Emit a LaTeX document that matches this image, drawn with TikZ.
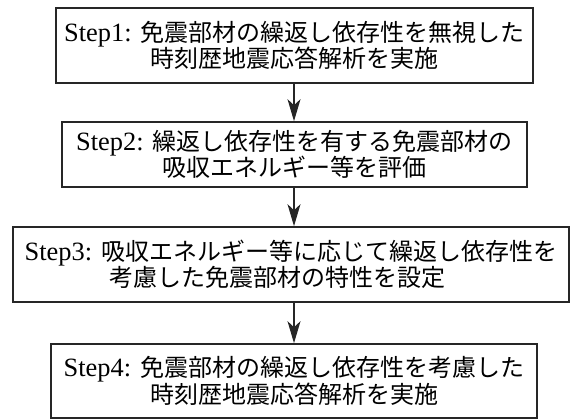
\documentclass[tikz,border=0pt]{standalone}
\usepackage{fontspec}
\setmainfont{Liberation Serif}[Scale=1.1]
\newfontfamily\jp{Noto Sans CJK JP}
\usetikzlibrary{arrows.meta}
\begin{document}
\begin{tikzpicture}[x=1pt,y=-1pt,
  box/.style={draw=black!85, line width=1.6pt, inner sep=0pt, align=center,
    font=\fontsize{24}{26.5}\selectfont},
  arr/.style={draw=black!85, line width=1.4pt, -{Stealth[length=22pt,width=13pt,inset=6pt]}}]
\useasboundingbox (0,0) rectangle (570,419);
\node[box, minimum width=477pt, minimum height=75pt] (s1) at (294.5,45.5)
  {Step1:\hspace{0.35em}{\jp 免震部材の繰返し依存性を無視した}\\{\jp 時刻歴地震応答解析を実施}};
\node[box, minimum width=465pt, minimum height=65pt] (s2) at (294.5,154.5)
  {Step2:\hspace{0.35em}{\jp 繰返し依存性を有する免震部材の}\\{\jp 吸収エネルギー等を評価}};
\node[box, minimum width=556pt, minimum height=75pt] (s3) at (291,264.5)
  {Step3:\hspace{0.35em}{\jp 吸収エネルギー等に応じて繰返し依存性を}\\{\jp 考慮した免震部材の特性を設定}\hspace*{28pt}};
\node[box, minimum width=486pt, minimum height=74pt] (s4) at (294,381)
  {Step4:\hspace{0.35em}{\jp 免震部材の繰返し依存性を考慮した}\\{\jp 時刻歴地震応答解析を実施}};
\coordinate (ax) at (294,0);
\draw[arr] (s1.south -| ax) -- (s2.north -| ax);
\draw[arr] (s2.south -| ax) -- (s3.north -| ax);
\draw[arr] (s3.south -| ax) -- (s4.north -| ax);
\end{tikzpicture}
\end{document}
